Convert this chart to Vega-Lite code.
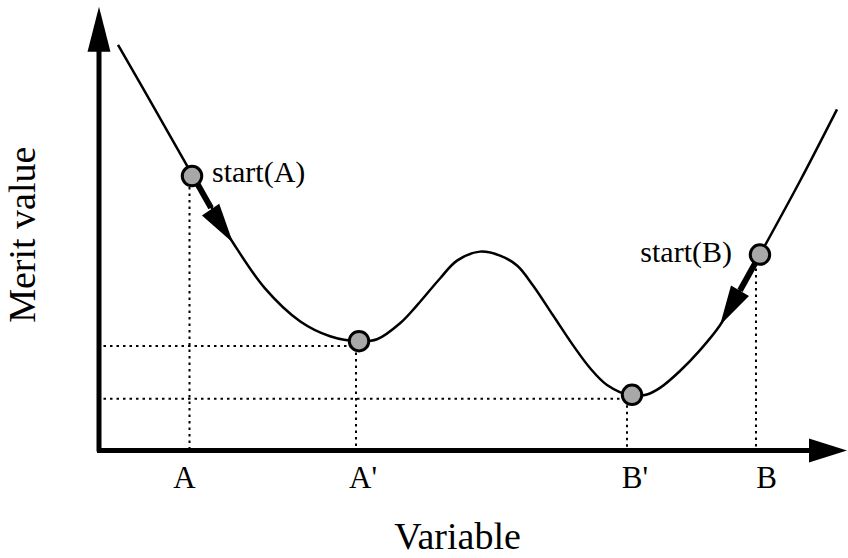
{
  "$schema": "https://vega.github.io/schema/vega-lite/v6.json",
  "width": 848,
  "height": 558,
  "autosize": {"type": "fit", "contains": "padding"},
  "padding": 0,
  "background": "white",
  "config": {"view": {"stroke": null}},
  "datasets": {
    "curve": [
      {"x": 2.84, "y": 92.5}, {"x": 7.84, "y": 77.73}, {"x": 12.97, "y": 62.5}, {"x": 15.68, "y": 54.77},
      {"x": 18.38, "y": 47.27}, {"x": 22.7, "y": 36.82}, {"x": 27.43, "y": 29.32}, {"x": 31.49, "y": 25.9},
      {"x": 35.41, "y": 24.77}, {"x": 37.84, "y": 25.2}, {"x": 40.95, "y": 28.86}, {"x": 43.24, "y": 32.95},
      {"x": 46.35, "y": 39.09}, {"x": 48.65, "y": 43.18}, {"x": 51.76, "y": 45.23}, {"x": 54.46, "y": 44.32},
      {"x": 56.76, "y": 42.05}, {"x": 58.92, "y": 37.5}, {"x": 61.62, "y": 30.68}, {"x": 64.32, "y": 23.86},
      {"x": 66.62, "y": 18.64}, {"x": 68.92, "y": 14.77}, {"x": 72.3, "y": 12.3}, {"x": 74.32, "y": 12.6},
      {"x": 76.08, "y": 14.09}, {"x": 78.78, "y": 17.95}, {"x": 81.49, "y": 22.73}, {"x": 84.19, "y": 28.41}, {"x": 86.89, "y": 36.36},
      {"x": 89.59, "y": 44.55}, {"x": 95.0, "y": 61.36}, {"x": 100.0, "y": 77.73}
    ],
    "guides": [
      {"x": 12.5, "y": 60.0, "x2": 12.5, "y2": 0},
      {"x": 0, "y": 23.64, "x2": 35.2, "y2": 23.64},
      {"x": 35.0, "y": 23.64, "x2": 35.0, "y2": 0},
      {"x": 0, "y": 11.59, "x2": 71.76, "y2": 11.59},
      {"x": 71.62, "y": 11.59, "x2": 71.62, "y2": 0},
      {"x": 89.05, "y": 41.36, "x2": 89.05, "y2": 0}
    ],
    "axes": [
      {"x": 0.27, "y": -0.45, "x2": 0.27, "y2": 91.36},
      {"x": 0.0, "y": -0.23, "x2": 96.62, "y2": -0.23}
    ],
    "yhead": [{"x": 0.27, "y": 96.02}],
    "xhead": [{"x": 98.78, "y": -0.23}],
    "shafts": [
      {"x": 12.97, "y": 62.5, "x2": 15.41, "y2": 55.23},
      {"x": 89.59, "y": 44.55, "x2": 86.89, "y2": 36.36}
    ],
    "headA": [{"x": 16.86, "y": 51.05}],
    "headB": [{"x": 85.54, "y": 32.34}],
    "points": [
      {"x": 12.84, "y": 62.5, "name": "start(A)"},
      {"x": 35.41, "y": 24.77, "name": "A'"},
      {"x": 72.3, "y": 12.5, "name": "B'"},
      {"x": 89.59, "y": 44.55, "name": "start(B)"}
    ],
    "startA": [{"x": 15.54, "y": 61.14, "label": "start(A)"}],
    "startB": [{"x": 85.81, "y": 42.95, "label": "start(B)"}],
    "ticks": [
      {"x": 11.82, "y": -8.86, "label": "A"},
      {"x": 35.95, "y": -8.86, "label": "A'"},
      {"x": 72.7, "y": -8.86, "label": "B'"},
      {"x": 90.47, "y": -8.86, "label": "B"}
    ],
    "xtitle": [{"x": 48.72, "y": -22.73, "label": "Variable"}],
    "ytitle": [{"x": -8.38, "y": 49.09, "label": "Merit value"}]
  },
  "encoding": {
    "x": {"field": "x", "type": "quantitative", "scale": {"domain": [-13.108, 101.486], "nice": false, "zero": false}, "axis": null},
    "y": {"field": "y", "type": "quantitative", "scale": {"domain": [-24.09, 102.727], "nice": false, "zero": false}, "axis": null}
  },
  "layer": [
    {
      "data": {"name": "guides"},
      "mark": {"type": "rule", "color": "black", "strokeWidth": 2, "strokeDash": [2.5, 4]},
      "encoding": {"x2": {"field": "x2"}, "y2": {"field": "y2"}}
    },
    {
      "data": {"name": "axes"},
      "mark": {"type": "rule", "color": "black", "strokeWidth": 5},
      "encoding": {"x2": {"field": "x2"}, "y2": {"field": "y2"}}
    },
    {
      "data": {"name": "yhead"},
      "mark": {"type": "point", "shape": "M0,-1L0.51,1L-0.51,1Z", "size": 2025, "filled": true, "color": "black", "opacity": 1}
    },
    {
      "data": {"name": "xhead"},
      "mark": {"type": "point", "shape": "M0,-1L0.63,1L-0.63,1Z", "size": 1444, "angle": 90, "filled": true, "color": "black", "opacity": 1}
    },
    {
      "data": {"name": "curve"},
      "mark": {"type": "line", "color": "black", "strokeWidth": 2.5, "interpolate": "catmull-rom"},
      "encoding": {}
    },
    {
      "data": {"name": "shafts"},
      "mark": {"type": "rule", "color": "black", "strokeWidth": 6},
      "encoding": {"x2": {"field": "x2"}, "y2": {"field": "y2"}}
    },
    {
      "data": {"name": "headA"},
      "mark": {"type": "point", "shape": "M0,-1L0.52,1L-0.52,1Z", "size": 1600, "angle": 146, "filled": true, "color": "black", "opacity": 1}
    },
    {
      "data": {"name": "headB"},
      "mark": {"type": "point", "shape": "M0,-1L0.52,1L-0.52,1Z", "size": 1600, "angle": 210, "filled": true, "color": "black", "opacity": 1}
    },
    {
      "data": {"name": "points"},
      "mark": {"type": "point", "shape": "circle", "size": 380, "filled": true, "fill": "#a8a8a8", "stroke": "black", "strokeWidth": 3, "opacity": 1}
    },
    {
      "data": {"name": "startA"},
      "mark": {"type": "text", "font": "Liberation Serif", "fontSize": 30, "align": "left", "baseline": "alphabetic", "color": "black"},
      "encoding": {"text": {"field": "label"}}
    },
    {
      "data": {"name": "startB"},
      "mark": {"type": "text", "font": "Liberation Serif", "fontSize": 30, "align": "right", "baseline": "alphabetic", "color": "black"},
      "encoding": {"text": {"field": "label"}}
    },
    {
      "data": {"name": "ticks"},
      "mark": {"type": "text", "font": "Liberation Serif", "fontSize": 31, "align": "center", "baseline": "alphabetic", "color": "black"},
      "encoding": {"text": {"field": "label"}}
    },
    {
      "data": {"name": "xtitle"},
      "mark": {"type": "text", "font": "Liberation Serif", "fontSize": 38, "align": "center", "baseline": "alphabetic", "color": "black"},
      "encoding": {"text": {"field": "label"}}
    },
    {
      "data": {"name": "ytitle"},
      "mark": {"type": "text", "font": "Liberation Serif", "fontSize": 38, "align": "center", "baseline": "alphabetic", "angle": 270, "color": "black"},
      "encoding": {"text": {"field": "label"}}
    }
  ]
}
